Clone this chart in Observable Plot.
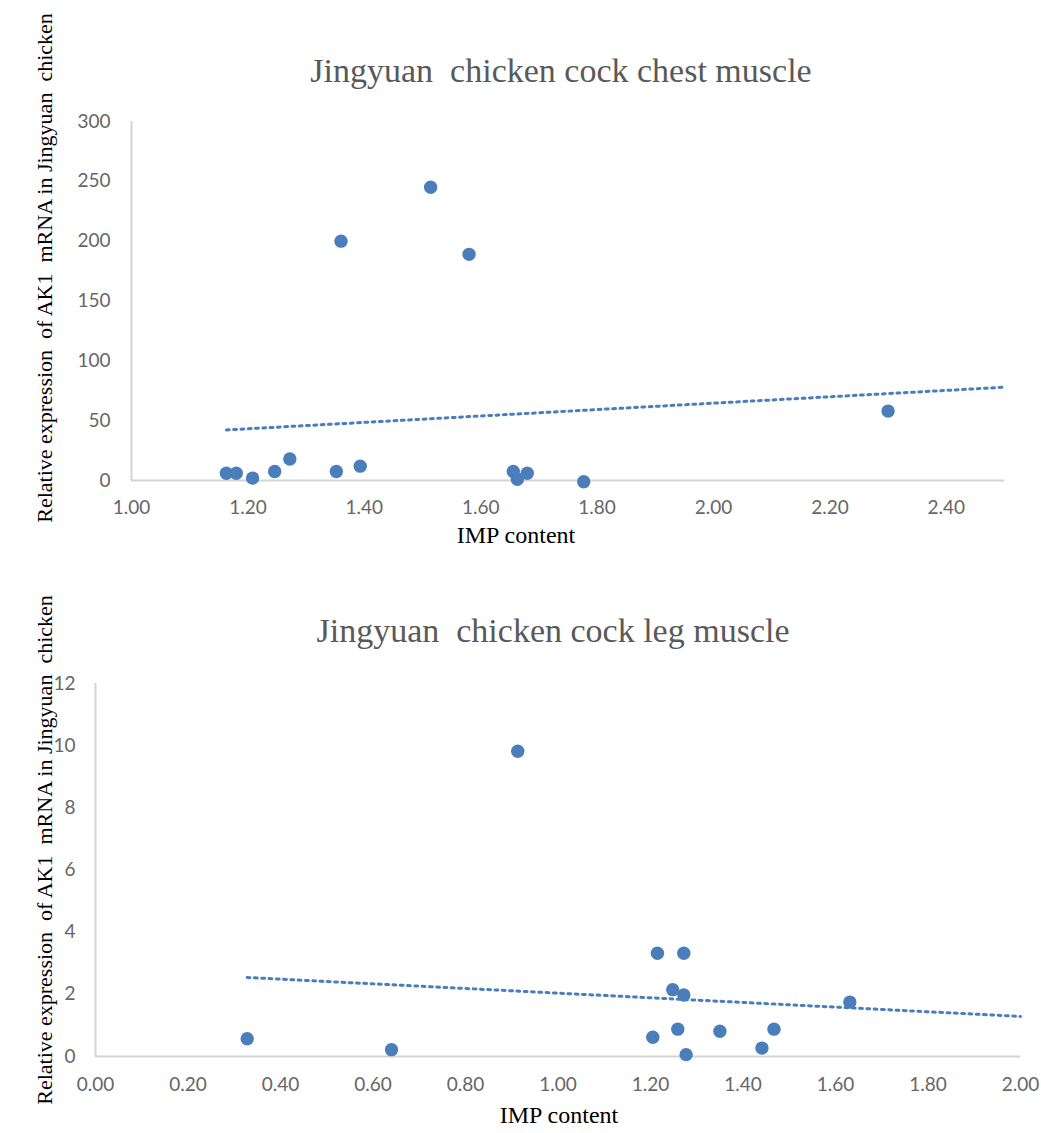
<!DOCTYPE html>
<html><head><meta charset="utf-8">
<script src="https://cdn.jsdelivr.net/npm/d3@7"></script>
<script src="https://cdn.jsdelivr.net/npm/@observablehq/plot@0.6"></script>
<style>
body{margin:0;background:#fff;}
#wrap{position:relative;width:1041px;height:1133px;overflow:hidden;background:#fff;}
.chart{position:absolute;left:0;}
.title{position:absolute;font-family:"Liberation Serif","Times New Roman",serif;font-size:34px;color:#595959;white-space:pre;line-height:1;transform:translateX(-50%);}
.xlab{position:absolute;font-family:"Liberation Serif","Times New Roman",serif;font-size:24px;color:#000;white-space:pre;line-height:1;transform:translateX(-50%);}
.ylab{position:absolute;font-family:"Liberation Serif","Times New Roman",serif;font-size:22px;color:#000;white-space:pre;line-height:1;transform:translate(-50%,-50%) rotate(-90deg);}
</style></head>
<body><div id="wrap"></div>
<script>
// ---- data ----
const chestTitle = "Jingyuan  chicken cock chest muscle";
const legTitle = "Jingyuan  chicken cock leg muscle";
const xLabel = "IMP content";
const yLabel = "Relative expression  of AK1  mRNA in Jingyuan  chicken";

const chestIMP = [1.163, 1.180, 1.208, 1.246, 1.272, 1.360, 1.352, 1.393, 1.514, 1.580, 1.656, 1.663, 1.680, 1.777, 2.300];
const chestAK1 = [6, 6, 2, 7.5, 18, 200, 7.5, 12, 245, 189, 7.5, 1, 6, -1, 58];
const chestXTicks = [1.0, 1.2, 1.4, 1.6, 1.8, 2.0, 2.2, 2.4];
const chestYTicks = [0, 50, 100, 150, 200, 250, 300];
const chestXDomain = [1.0, 2.5];
const chestYDomain = [0, 300];

const legIMP = [0.328, 0.640, 0.913, 1.215, 1.272, 1.248, 1.272, 1.631, 1.205, 1.259, 1.350, 1.467, 1.441, 1.277];
const legAK1 = [0.57, 0.22, 9.82, 3.32, 3.32, 2.15, 1.98, 1.75, 0.62, 0.88, 0.81, 0.88, 0.27, 0.06];
const legXTicks = [0, 0.2, 0.4, 0.6, 0.8, 1.0, 1.2, 1.4, 1.6, 1.8, 2.0];
const legYTicks = [0, 2, 4, 6, 8, 10, 12];
const legXDomain = [0, 2];
const legYDomain = [0, 12];

// ---- styles ----
const blue = "#4a7ebb";
const axisGray = "#d4d4d4";

function trend(xs, ys, xEnd) {
  const mx = d3.mean(xs), my = d3.mean(ys);
  const b = d3.sum(xs, (x, i) => (x - mx) * (ys[i] - my)) / d3.sum(xs, x => (x - mx) ** 2);
  return [d3.min(xs), xEnd].map(x => ({x, y: my + b * (x - mx)}));
}

function chart(xs, ys, o) {
  const pts = xs.map((x, i) => ({x, y: ys[i]}));
  return Plot.plot({
    width: 1041, height: o.height,
    marginLeft: o.ml, marginRight: o.mr, marginTop: o.mt, marginBottom: o.mb,
    style: {fontFamily: "Lato, 'Open Sans', sans-serif", fontSize: "19px", color: "#666", background: "transparent"},
    x: {domain: o.xd, ticks: o.xt, tickFormat: ".2f", axis: null},
    y: {domain: o.yd, ticks: o.yt, axis: null},
    marks: [
      Plot.ruleX([o.xd[0]], {stroke: axisGray, strokeWidth: 2}),
      Plot.ruleY([0], {stroke: axisGray, strokeWidth: 2}),
      Plot.axisX({ticks: o.xt, tickFormat: ".2f", tickSize: 0, tickPadding: o.xp, fontSize: 19, label: null}),
      Plot.axisY({ticks: o.yt, tickFormat: "d", tickSize: 0, tickPadding: o.yp, fontSize: 19, label: null}),
      Plot.line(trend(xs, ys, o.xd[1]), {x: "x", y: "y", stroke: blue, strokeWidth: 3, strokeDasharray: "2.8 4.5"}),
      Plot.dot(pts, {x: "x", y: "y", r: 6.7, fill: blue, stroke: null})
    ]
  });
}

const wrap = document.getElementById("wrap");

const c1 = chart(chestIMP, chestAK1, {height: 560, ml: 131, mr: 37, mt: 121, mb: 80,
  xd: chestXDomain, yd: chestYDomain, xt: chestXTicks, yt: chestYTicks, xp: 20, yp: 21});
c1.classList.add("chart"); c1.style.top = "0px";
wrap.appendChild(c1);

const c2 = chart(legIMP, legAK1, {height: 533, ml: 95, mr: 21, mt: 83, mb: 77,
  xd: legXDomain, yd: legYDomain, xt: legXTicks, yt: legYTicks, xp: 21, yp: 20});
c2.classList.add("chart"); c2.style.top = "600px";
wrap.appendChild(c2);

function addText(cls, text, left, top) {
  const d = document.createElement("div");
  d.className = cls; d.textContent = text;
  d.style.left = left + "px"; d.style.top = top + "px";
  wrap.appendChild(d);
}
addText("title", chestTitle, 561, 54);
addText("title", legTitle, 553, 614);
addText("xlab", xLabel, 516, 523);
addText("xlab", xLabel, 559, 1103);
addText("ylab", yLabel, 45, 268);
addText("ylab", yLabel, 45, 850);
</script>
</body></html>
